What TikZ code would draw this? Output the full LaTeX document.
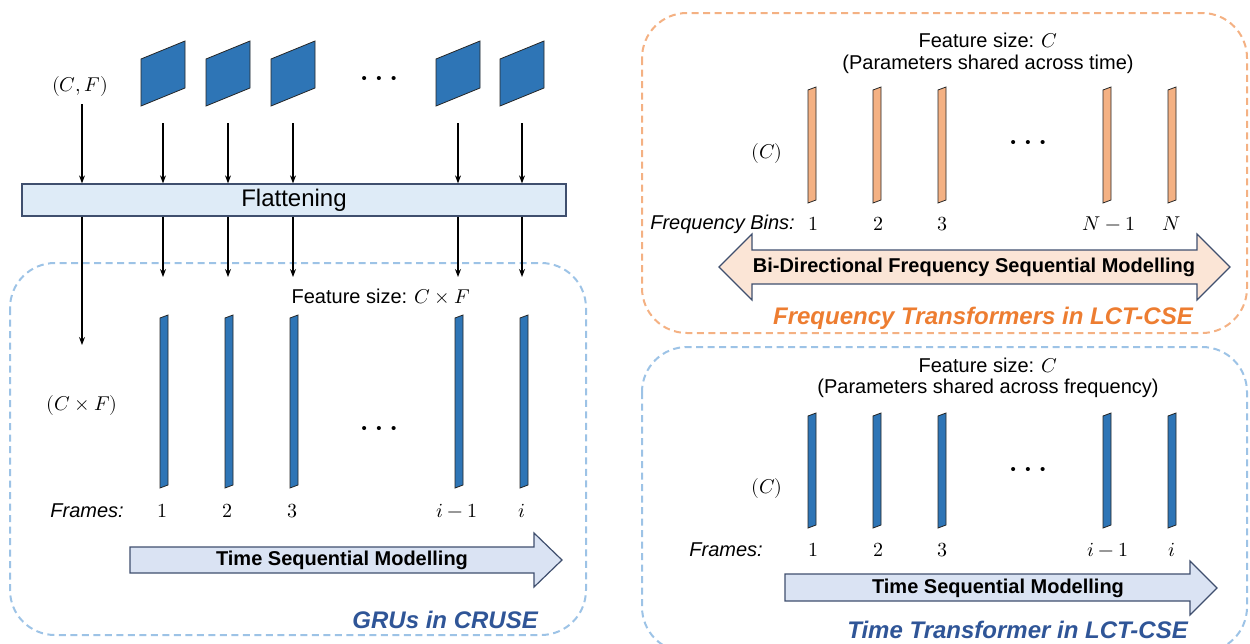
\documentclass[tikz,border=0pt]{standalone}
\usepackage{fontspec}
\usepackage{unicode-math}
\setmainfont{Liberation Sans}
\setmathfont{Latin Modern Math}
\usetikzlibrary{arrows.meta}

\definecolor{featblue}{HTML}{2E75B6}
\definecolor{featorange}{HTML}{F4B183}
\definecolor{flatfill}{HTML}{DEEBF7}
\definecolor{edgenavy}{HTML}{3F4F6E}
\definecolor{arrowfill}{HTML}{DAE3F3}
\definecolor{peach}{HTML}{FBE5D6}
\definecolor{dashblue}{HTML}{9DC3E6}
\definecolor{dashorange}{HTML}{F4B183}
\definecolor{titleblue}{HTML}{2F5597}
\definecolor{titleorange}{HTML}{ED7D31}

% three spaced bullets standing for the omitted columns
\newcommand{\skipdots}{\fontsize{15}{18}\selectfont •\hspace{9.5pt}•\hspace{9.5pt}•}

\begin{document}
\begin{tikzpicture}[x=1pt,y=-1pt,
  txt/.style={font=\fontsize{20}{24}\selectfont, inner sep=0pt},
  itxt/.style={font=\fontsize{20}{24}\selectfont\itshape, inner sep=0pt},
  dotsnode/.style={inner sep=0pt},
  arrowtext/.style={font=\fontsize{20}{24}\selectfont\bfseries, inner sep=0pt},
  grouptitle/.style={font=\fontsize{24}{28}\selectfont\bfseries\itshape, inner sep=0pt, anchor=east},
  flow/.style={-{Stealth[length=8pt,width=6pt]}, line width=1.1pt, black},
  groupbox/.style={dash pattern=on 7pt off 4.5pt, line width=2pt, rounded corners=45pt},
  flatbox/.style={draw=edgenavy, fill=flatfill, line width=1.3pt, inner sep=0pt,
                  font=\fontsize{24}{28}\selectfont},
  blockarrow/.style={draw=edgenavy, line width=1.2pt},
  featshape/.style={draw=black!85, line width=0.8pt},
]
\useasboundingbox (0,0) rectangle (1250,643);

% ---------- group frames ----------
\draw[groupbox, draw=dashblue] (10,263) rectangle (586,635);
\draw[groupbox, draw=dashorange] (642,13) rectangle (1247,333);
\draw[groupbox, draw=dashblue] (642,347) rectangle (1247,652);

% ---------- CRUSE: input feature maps ----------
\node[txt] (cf) at (80,86) {$(C,F)$};
\foreach \x in {163,228,293,458,522}
  \draw[featshape, fill=featblue] (\x-22,59) -- (\x+22,41) -- (\x+22,88) -- (\x-22,106) -- cycle;
\node[dotsnode] (dtop) at (379,80) {\skipdots};

\node[flatbox, minimum width=544pt, minimum height=32pt] (flat) at (294,200) {Flattening};

% arrows into and out of the flattening stage
\coordinate (cfa) at (82,104);
\coordinate (cfb) at (82,345);
\draw[flow] (cfa) -- (cfa |- flat.north);
\draw[flow] (cfa |- flat.south) -- (cfb);
\foreach \x [count=\k] in {163,228,293,458,522} {
  \coordinate (in\k) at (\x,123);
  \coordinate (out\k) at (\x,277);
  \draw[flow] (in\k) -- (in\k |- flat.north);
  \draw[flow] (in\k |- flat.south) -- (out\k);
}

% ---------- CRUSE: flattened frames ----------
\node[txt] (fsl) at (381,296) {Feature size: $C\times F$};
\node[txt] (cxf) at (82,405) {$(C\times F)$};
\foreach \x in {164,229,294,459,524}
  \draw[featshape, fill=featblue] (\x-4,318) -- (\x+4,315) -- (\x+4,485) -- (\x-4,488) -- cycle;
\node[dotsnode] (dmid) at (379,430) {\skipdots};

\node[itxt, anchor=east] (framesl) at (124,511) {Frames:};
\foreach \x/\t [count=\k] in {162/1,227/2,292/3,457/i-1,522/i}
  \node[txt] (lfr\k) at (\x,511) {$\t$};

\draw[blockarrow, fill=arrowfill] (130,547) -- (534,547) -- (534,533) -- (562,560)
  -- (534,587) -- (534,573) -- (130,573) -- cycle;
\node[arrowtext] (tsml) at (342,560) {Time Sequential Modelling};

\node[grouptitle, text=titleblue] (gru) at (538,620) {GRUs in CRUSE};

% ---------- frequency transformer ----------
\node[txt] (fsf) at (988,40) {Feature size: $C$};
\node[txt] (psf) at (988,64) {(Parameters shared across time)};
\node[txt] (cfr) at (767,153) {$(C)$};
\foreach \x in {812,877,942,1107,1172}
  \draw[featshape, fill=featorange] (\x-4,90) -- (\x+4,87) -- (\x+4,200) -- (\x-4,203) -- cycle;
\node[dotsnode] (dfr) at (1028,144) {\skipdots};

\node[itxt, anchor=east] (bins) at (795,224) {Frequency Bins:};
\foreach \x/\t [count=\k] in {813/1,878/2,942/3,1109/N-1,1172/N}
  \node[txt] (fb\k) at (\x,224) {$\t$};

\draw[blockarrow, fill=peach] (719,267) -- (752,234) -- (752,250) -- (1197,250)
  -- (1197,234) -- (1230,267) -- (1197,300) -- (1197,284) -- (752,284)
  -- (752,300) -- cycle;
\node[arrowtext] (bdm) at (974,267) {Bi-Directional Frequency Sequential Modelling};

\node[grouptitle, text=titleorange] (ftt) at (1193,318) {Frequency Transformers in LCT-CSE};

% ---------- time transformer ----------
\node[txt] (fst) at (988,365) {Feature size: $C$};
\node[txt] (pst) at (988,388) {(Parameters shared across frequency)};
\node[txt] (ctr) at (767,488) {$(C)$};
\foreach \x in {812,877,942,1107,1172}
  \draw[featshape, fill=featblue] (\x-4,416) -- (\x+4,413) -- (\x+4,525) -- (\x-4,528) -- cycle;
\node[dotsnode] (dtr) at (1028,471) {\skipdots};

\node[itxt, anchor=east] (framesr) at (763,550) {Frames:};
\foreach \x/\t [count=\k] in {813/1,878/2,942/3,1108/i-1,1172/i}
  \node[txt] (tf\k) at (\x,550) {$\t$};

\draw[blockarrow, fill=arrowfill] (785,574) -- (1190,574) -- (1190,561) -- (1217,588)
  -- (1190,615) -- (1190,601) -- (785,601) -- cycle;
\node[arrowtext] (tsmr) at (998,588) {Time Sequential Modelling};

\node[grouptitle, text=titleblue] (ttt) at (1188,630) {Time Transformer in LCT-CSE};
\end{tikzpicture}
\end{document}
